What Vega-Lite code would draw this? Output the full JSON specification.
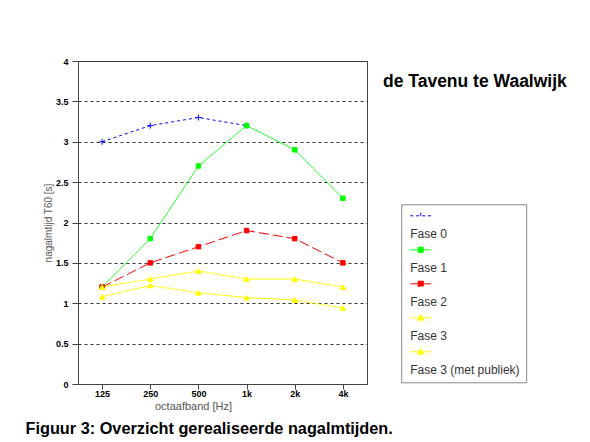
{
  "$schema": "https://vega.github.io/schema/vega-lite/v6.json",
  "background": "white",
  "autosize": {"type": "pad"},
  "padding": {"left": 25, "top": 56, "right": 0, "bottom": 0},
  "title": {
    "text": "Figuur 3: Overzicht gerealiseerde nagalmtijden.",
    "orient": "bottom", "anchor": "start", "frame": "bounds",
    "dx": -17, "offset": 22, "baseline": "alphabetic",
    "font": "Liberation Sans", "fontSize": 16.3, "fontWeight": "bold", "color": "#000000"
  },
  "config": {
    "view": {"stroke": "#444444", "strokeWidth": 1},
    "axis": {
      "labelFont": "Liberation Sans", "labelFontSize": 9, "labelFontWeight": "bold", "labelColor": "#000000",
      "titleFont": "Liberation Sans", "titleFontSize": 11, "titleFontWeight": "normal", "titleColor": "#555555",
      "domainColor": "#444444", "tickColor": "#444444", "domainWidth": 1, "tickWidth": 1
    }
  },
  "vconcat": [
    {
      "width": 289,
      "height": 323,
      "title": {
        "text": "de Tavenu te Waalwijk",
        "orient": "top", "anchor": "start", "frame": "group",
        "dx": 305, "dy": 47, "offset": 0, "baseline": "alphabetic",
        "font": "Liberation Sans", "fontSize": 17.5, "fontWeight": "bold", "color": "#000000"
      },
      "data": {
        "values": [
          {"fase": "Fase 0", "f": 125, "t": 3.0},
          {"fase": "Fase 0", "f": 250, "t": 3.2},
          {"fase": "Fase 0", "f": 500, "t": 3.3},
          {"fase": "Fase 0", "f": 1000, "t": 3.2},
          {"fase": "Fase 1", "f": 125, "t": 1.2},
          {"fase": "Fase 1", "f": 250, "t": 1.8},
          {"fase": "Fase 1", "f": 500, "t": 2.7},
          {"fase": "Fase 1", "f": 1000, "t": 3.2},
          {"fase": "Fase 1", "f": 2000, "t": 2.9},
          {"fase": "Fase 1", "f": 4000, "t": 2.3},
          {"fase": "Fase 2", "f": 125, "t": 1.2},
          {"fase": "Fase 2", "f": 250, "t": 1.5},
          {"fase": "Fase 2", "f": 500, "t": 1.7},
          {"fase": "Fase 2", "f": 1000, "t": 1.9},
          {"fase": "Fase 2", "f": 2000, "t": 1.8},
          {"fase": "Fase 2", "f": 4000, "t": 1.5},
          {"fase": "Fase 3", "f": 125, "t": 1.2},
          {"fase": "Fase 3", "f": 250, "t": 1.3},
          {"fase": "Fase 3", "f": 500, "t": 1.4},
          {"fase": "Fase 3", "f": 1000, "t": 1.3},
          {"fase": "Fase 3", "f": 2000, "t": 1.3},
          {"fase": "Fase 3", "f": 4000, "t": 1.2},
          {"fase": "Fase 3 (met publiek)", "f": 125, "t": 1.08},
          {"fase": "Fase 3 (met publiek)", "f": 250, "t": 1.22},
          {"fase": "Fase 3 (met publiek)", "f": 500, "t": 1.13},
          {"fase": "Fase 3 (met publiek)", "f": 1000, "t": 1.07},
          {"fase": "Fase 3 (met publiek)", "f": 2000, "t": 1.04},
          {"fase": "Fase 3 (met publiek)", "f": 4000, "t": 0.94}
        ]
      },
      "encoding": {
        "x": {
          "field": "f", "type": "quantitative",
          "scale": {"type": "log", "domain": [88.388, 5656.854], "nice": false},
          "axis": {
            "title": "octaafband [Hz]",
            "values": [125, 250, 500, 1000, 2000, 4000],
            "labelExpr": "datum.value >= 1000 ? (datum.value / 1000) + 'k' : '' + datum.value",
            "grid": false, "tickSize": 5, "labelPadding": 0,
            "titleX": 115, "titleY": 25, "titleAlign": "center", "titleBaseline": "alphabetic"
          }
        },
        "y": {
          "field": "t", "type": "quantitative",
          "scale": {"domain": [0, 4], "nice": false},
          "axis": {
            "title": "nagalmtijd T60 [s]",
            "values": [0, 0.5, 1, 1.5, 2, 2.5, 3, 3.5, 4],
            "format": "~g",
            "grid": true, "gridDash": [3, 3], "gridColor": "#333333", "gridWidth": 1,
            "tickSize": 6, "labelPadding": 4, "titleFontSize": 10,
            "titleX": -30, "titleAlign": "center", "titleBaseline": "middle"
          }
        }
      },
      "layer": [
        {
          "transform": [{"filter": "datum.t < -100"}],
          "mark": {"type": "point", "filled": true, "opacity": 1, "strokeWidth": 1},
          "encoding": {
            "fill": {
              "field": "fase", "type": "nominal",
              "scale": {"domain": ["Fase 0", "Fase 1", "Fase 2", "Fase 3", "Fase 3 (met publiek)"], "range": ["#0000ff", "#00ff00", "#ff0000", "#ffff00", "#ffff00"]},
              "legend": {
                "title": " ", "titleFontSize": 4, "titlePadding": 1,
                "orient": "none", "legendX": 323.2, "legendY": 143.3,
                "strokeColor": "#888888", "fillColor": "#ffffff", "padding": 6,
                "symbolSize": 676, "symbolStrokeWidth": 1,
                "labelOffset": -24, "labelBaseline": "top",
                "labelFont": "Liberation Sans", "labelFontSize": 12, "labelColor": "#333333",
                "rowPadding": 4, "labelLimit": 300
              }
            },
            "stroke": {
              "field": "fase", "type": "nominal",
              "scale": {"domain": ["Fase 0", "Fase 1", "Fase 2", "Fase 3", "Fase 3 (met publiek)"], "range": ["#0000ff", "#00ff00", "#ff0000", "#ffff00", "#ffff00"]}
            },
            "shape": {
              "field": "fase", "type": "nominal",
              "scale": {
                "domain": ["Fase 0", "Fase 1", "Fase 2", "Fase 3", "Fase 3 (met publiek)"],
                "range": [
                  "M-0.81,-1H0.81M0,-1.23V-0.77",
                  "M-0.81,-1H0.81M-0.2,-1.2H0.2V-0.8H-0.2Z",
                  "M-0.81,-1H0.81M-0.2,-1.2H0.2V-0.8H-0.2Z",
                  "M-0.81,-1H0.81M0,-1.25L0.25,-0.82H-0.25Z",
                  "M-0.81,-1H0.81M0,-1.25L0.25,-0.82H-0.25Z"
                ]
              }
            },
            "strokeDash": {
              "field": "fase", "type": "nominal",
              "scale": {"domain": ["Fase 0", "Fase 1", "Fase 2", "Fase 3", "Fase 3 (met publiek)"], "range": [[3, 3], [1, 0], [10, 4], [1, 0], [1, 0]]}
            }
          }
        },
        {
          "mark": {"type": "line", "strokeWidth": 1},
          "encoding": {
            "stroke": {
              "field": "fase", "type": "nominal",
              "scale": {"domain": ["Fase 0", "Fase 1", "Fase 2", "Fase 3", "Fase 3 (met publiek)"], "range": ["#0000ff", "#00ff00", "#ff0000", "#ffff00", "#ffff00"]}
            },
            "strokeDash": {
              "field": "fase", "type": "nominal",
              "scale": {"domain": ["Fase 0", "Fase 1", "Fase 2", "Fase 3", "Fase 3 (met publiek)"], "range": [[3, 3], [1, 0], [10, 4], [1, 0], [1, 0]]}
            }
          }
        },
        {
          "transform": [{"filter": "datum.fase === 'Fase 0'"}],
          "mark": {"type": "point", "filled": false, "opacity": 1, "strokeWidth": 1, "size": 36, "shape": "M-1,0H1M0,-1V1"},
          "encoding": {
            "stroke": {
              "field": "fase", "type": "nominal",
              "scale": {"domain": ["Fase 0", "Fase 1", "Fase 2", "Fase 3", "Fase 3 (met publiek)"], "range": ["#0000ff", "#00ff00", "#ff0000", "#ffff00", "#ffff00"]}
            }
          }
        },
        {
          "transform": [{"filter": "datum.fase === 'Fase 1' || datum.fase === 'Fase 2'"}],
          "mark": {"type": "point", "filled": true, "opacity": 1, "strokeWidth": 1, "size": 20, "shape": "square"},
          "encoding": {
            "fill": {
              "field": "fase", "type": "nominal",
              "scale": {"domain": ["Fase 0", "Fase 1", "Fase 2", "Fase 3", "Fase 3 (met publiek)"], "range": ["#0000ff", "#00ff00", "#ff0000", "#ffff00", "#ffff00"]}
            },
            "stroke": {
              "field": "fase", "type": "nominal",
              "scale": {"domain": ["Fase 0", "Fase 1", "Fase 2", "Fase 3", "Fase 3 (met publiek)"], "range": ["#0000ff", "#00ff00", "#ff0000", "#ffff00", "#ffff00"]}
            }
          }
        },
        {
          "transform": [{"filter": "datum.fase === 'Fase 3' || datum.fase === 'Fase 3 (met publiek)'"}],
          "mark": {"type": "point", "filled": true, "opacity": 1, "strokeWidth": 1, "size": 30, "shape": "triangle-up"},
          "encoding": {
            "fill": {
              "field": "fase", "type": "nominal",
              "scale": {"domain": ["Fase 0", "Fase 1", "Fase 2", "Fase 3", "Fase 3 (met publiek)"], "range": ["#0000ff", "#00ff00", "#ff0000", "#ffff00", "#ffff00"]}
            },
            "stroke": {
              "field": "fase", "type": "nominal",
              "scale": {"domain": ["Fase 0", "Fase 1", "Fase 2", "Fase 3", "Fase 3 (met publiek)"], "range": ["#0000ff", "#00ff00", "#ff0000", "#ffff00", "#ffff00"]}
            }
          }
        }
      ]
    }
  ]
}
